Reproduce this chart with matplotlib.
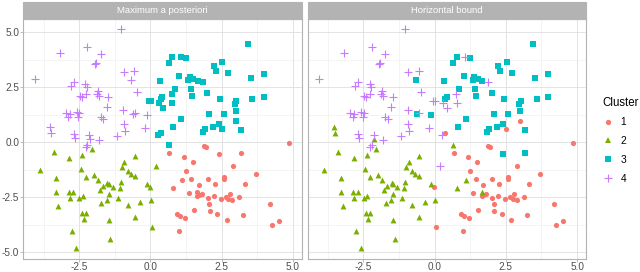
import numpy as np
import matplotlib
matplotlib.use("Agg")
import matplotlib.pyplot as plt
from matplotlib.lines import Line2D
from matplotlib.patches import Rectangle

plt.rcParams['font.family'] = ['Liberation Sans', 'DejaVu Sans']

# points: x, y, cluster in "Maximum a posteriori", cluster in "Horizontal bound"
x = [-4.05, -3.17, -2.21, -1.74, -1.03, -1.96, -1.92, -0.92, -0.56, -0.67,
     -2.80, -2.68, -2.28, -2.23, -2.47, -2.41, -2.26, -1.84, -1.88, -1.80,
     -1.47, -0.48, -2.96, -2.88, -2.82, -2.58, -2.49, -2.53, -1.74, -1.65,
     -1.53, -0.95, -0.62, -0.54, -0.13, -0.92, -0.89, -0.19, -3.52, -3.49,
     -2.68, -2.64, -2.14, -2.12, -2.21, -2.27, -1.82, -1.18,
     3.44, 0.77, 0.65, 1.08, 1.25, 2.23, 2.29, 2.53, 2.71, 3.99,
     3.53, 0.34, 1.02, 1.39, 1.33, 1.51, 1.68, 1.86, 0.87, 0.76,
     1.42, 1.45, 2.00, 2.44, 3.58, 3.98, -0.06, 0.02, 0.42, 0.37,
     0.30, 0.43, 0.77, 3.02, 2.96, 2.99, 2.57, 2.07, 1.09, 3.01,
     3.18, 2.41, 2.18, 2.50, 0.81, 0.36, 0.26, 1.92, 1.84, 0.65,
     4.87, 1.88, 1.94, 0.67, 2.41, 3.18, 1.18, 1.49, 2.90, 1.25,
     3.71, 1.10, 1.44, 2.01, 2.58, 2.58, 2.25, 3.31, 1.70, 0.80,
     1.36, 1.65, 1.70, 1.65, 1.80, 2.22, 2.01, 2.48, 2.65, 2.80,
     2.74, 2.88, 3.12, 4.19, 2.07, 1.53, 2.09, 2.35, 0.92, 1.04,
     1.22, 3.24, 2.68, 4.50, 4.27, 1.01,
     -3.38, -2.84, -2.39, -2.05, -0.54, -3.87, -3.30, -2.44, -0.91, -0.99,
     0.18, -2.27, -1.99, -1.85, -1.51, -1.46, -1.68, -1.77, -1.32, -1.46,
     -1.53, -1.72, -1.04, -1.06, -0.80, -0.69, -0.54, -0.13, -0.01, -3.30,
     -2.85, -2.70, -2.82, -2.49, -2.37, -1.15, -3.23, -2.40, -2.27, -2.34,
     -0.78, -0.35, 0.02, -0.54, -1.45, 0.06, -2.76, -1.40, -2.60]

y = [2.90, 4.05, 4.32, 4.02, 5.14, 3.57, 3.63, 3.19, 3.26, 2.84,
     2.56, 2.76, 2.64, 2.50, 2.11, 2.08, 2.19, 2.35, 2.19, 2.12,
     2.05, 2.28, 1.35, 1.17, 1.28, 1.40, 1.32, 1.14, 1.14, 1.06,
     1.62, 1.47, 1.29, 1.35, 1.24, 0.83, 0.53, 0.64, 0.68, 0.41,
     0.38, 0.20, 0.32, 0.14, -0.12, -0.20, 0.11, 0.29,
     4.48, 3.90, 3.60, 3.87, 3.84, 3.47, 3.26, 3.67, 3.17, 3.11,
     2.91, 2.79, 3.03, 2.99, 2.84, 2.87, 2.79, 2.76, 2.41, 2.20,
     2.41, 2.12, 2.23, 1.96, 1.99, 2.06, 1.88, 1.90, 2.08, 1.96,
     1.78, 1.55, 1.78, 1.88, 1.75, 1.43, 1.27, 1.29, 1.06, 0.99,
     0.55, 0.82, 0.68, 0.61, 0.70, 0.44, 0.33, 0.59, 0.46, -0.14,
     -0.05, -0.15, -0.20, -0.47, -0.53, -0.47, -0.65, -0.90, -1.06, -1.29,
     -1.46, -1.71, -1.65, -1.65, -1.59, -1.67, -1.91, -1.91, -1.94, -2.09,
     -2.32, -2.25, -2.40, -2.44, -2.37, -2.43, -2.53, -2.58, -2.47, -2.37,
     -2.58, -2.63, -2.50, -2.82, -2.81, -3.08, -3.13, -3.26, -3.28, -3.35,
     -3.46, -3.31, -3.55, -3.60, -3.78, -4.05,
     -0.46, -0.73, -0.58, -0.30, -0.61, -1.27, -1.61, -1.20, -0.91, -1.12,
     -1.09, -1.56, -1.50, -1.71, -1.84, -1.91, -1.99, -2.17, -2.05, -2.35,
     -2.63, -2.75, -1.81, -2.09, -1.30, -1.43, -1.55, -1.90, -2.05, -2.25,
     -2.25, -2.26, -2.55, -2.55, -2.43, -2.55, -2.88, -3.20, -3.22, -3.47,
     -2.85, -2.72, -2.63, -3.38, -3.54, -3.84, -4.04, -4.39, -4.80]

cluster_map = [4] * 48 + [3] * 50 + [1] * 46 + [2] * 49

cluster_hb = [4, 4, 4, 4, 4, 4, 4, 4, 4, 3,
              4, 4, 4, 4, 4, 4, 4, 4, 4, 4,
              4, 4, 4, 4, 4, 4, 4, 4, 4, 4,
              4, 4, 3, 4, 3, 4, 4, 4, 2, 2,
              4, 4, 4, 2, 4, 4, 4, 4,
              3, 3, 3, 4, 3, 3, 3, 3, 3, 3,
              3, 3, 3, 3, 3, 3, 3, 4, 3, 4,
              3, 3, 3, 3, 3, 3, 4, 4, 3, 3,
              4, 4, 4, 3, 3, 3, 3, 3, 3, 1,
              3, 3, 3, 1, 3, 1, 4, 3, 3, 2,
              1, 1, 1, 1, 3, 3, 1, 1, 1, 1,
              1, 2, 1, 1, 1, 1, 1, 1, 1, 2,
              1, 2, 1, 1, 1, 1, 1, 1, 1, 1,
              1, 1, 1, 1, 1, 1, 1, 1, 1, 1,
              1, 1, 1, 1, 1, 1,
              2, 2, 2, 2, 2, 2, 2, 2, 2, 2,
              4, 2, 2, 2, 2, 2, 2, 2, 2, 2,
              2, 2, 2, 2, 2, 2, 2, 2, 1, 2,
              2, 2, 2, 2, 2, 2, 2, 2, 2, 2,
              2, 2, 2, 2, 2, 1, 2, 2, 2]

panel_titles = ["Maximum a posteriori", "Horizontal bound"]
cluster_names = ["1", "2", "3", "4"]
colors = {1: "#F8766D", 2: "#7CAE00", 3: "#00BFC4", 4: "#C77CFF"}
markers = {1: "o", 2: "^", 3: "s", 4: "+"}
sizes = {1: 14, 2: 18, 3: 14, 4: 30}

x = np.array(x)
y = np.array(y)

fig = plt.figure(figsize=(6.4, 2.72), dpi=100)
ax1 = fig.add_axes([0.0364, 0.0478, 0.435, 0.882])
ax2 = fig.add_axes([0.4805, 0.0478, 0.435, 0.882])

for ax, labs, title in zip([ax1, ax2], [cluster_map, cluster_hb], panel_titles):
    labs = np.array(labs)
    for k in [1, 2, 3, 4]:
        m = labs == k
        if markers[k] == "+":
            ax.scatter(x[m], y[m], marker="+", s=sizes[k], c=colors[k],
                       linewidths=0.8, zorder=3)
        else:
            ax.scatter(x[m], y[m], marker=markers[k], s=sizes[k], c=colors[k],
                       linewidths=0, zorder=3)
    ax.set_xlim(-4.46, 5.31)
    ax.set_ylim(-5.31, 5.61)
    ax.set_xticks([-2.5, 0.0, 2.5, 5.0])
    ax.set_yticks([-5.0, -2.5, 0.0, 2.5, 5.0])
    ax.set_xticks([-3.75, -1.25, 1.25, 3.75], minor=True)
    ax.set_yticks([-3.75, -1.25, 1.25, 3.75], minor=True)
    ax.grid(which="major", color="#DEDEDE", linewidth=0.6, zorder=0)
    ax.grid(which="minor", color="#EDEDED", linewidth=0.4, zorder=0)
    ax.set_axisbelow(True)
    for sp in ax.spines.values():
        sp.set_color("#B3B3B3")
        sp.set_linewidth(0.8)
    ax.tick_params(which="major", length=2.0, width=0.6, color="#B3B3B3",
                   labelsize=7.2, labelcolor="#4D4D4D", pad=1.0)
    ax.tick_params(axis="x", which="major", pad=0.4)
    ax.tick_params(which="minor", length=0)
    # strip on top
    ax.add_patch(Rectangle((0, 1.0), 1, 17 / 240, transform=ax.transAxes,
                           facecolor="#B3B3B3", edgecolor="#B3B3B3",
                           linewidth=0.8, clip_on=False))
    ax.text(0.5, 1 + 8.5 / 240, title, transform=ax.transAxes, ha="center",
            va="center", color="white", fontsize=6.8)

ax1.set_yticklabels(["-5.0", "-2.5", "0.0", "2.5", "5.0"])
ax1.set_xticklabels(["-2.5", "0.0", "2.5", "5.0"])
ax2.set_xticklabels(["-2.5", "0.0", "2.5", "5.0"])
ax2.tick_params(axis="y", which="both", left=False, labelleft=False)

handles = []
for k, name in zip([1, 2, 3, 4], cluster_names):
    if markers[k] == "+":
        h = Line2D([], [], linestyle="none", marker="+", color=colors[k],
                   markersize=6, markeredgewidth=0.8, label=name)
    else:
        h = Line2D([], [], linestyle="none", marker=markers[k], color=colors[k],
                   markersize=3.8, markeredgewidth=0, label=name)
    handles.append(h)

leg = fig.legend(handles=handles, title="Cluster", loc="upper left",
                 bbox_to_anchor=(0.941, 0.645), frameon=False, fontsize=7.4,
                 title_fontsize=8.3, labelspacing=0.85, handlelength=1.2,
                 handletextpad=0.6, borderpad=0, borderaxespad=0)
leg._legend_box.align = "left"

fig.savefig("out.png", dpi=100)
